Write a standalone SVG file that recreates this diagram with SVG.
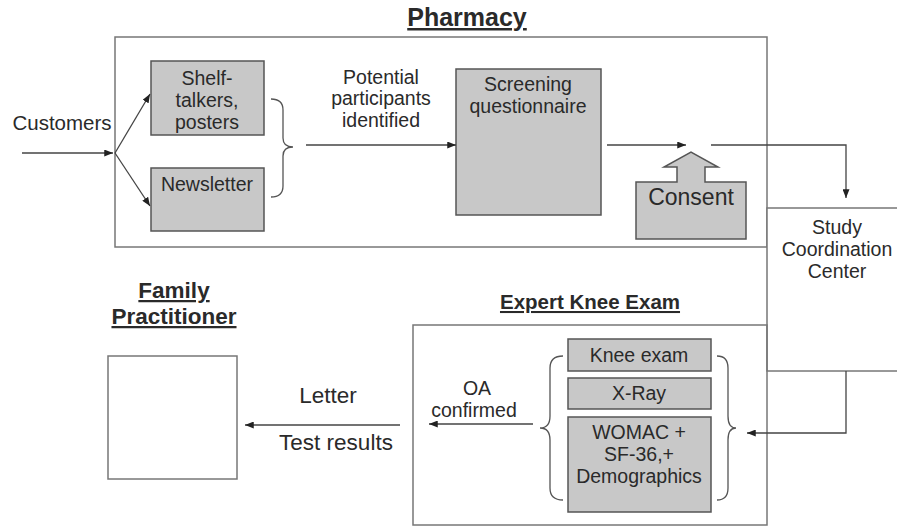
<svg xmlns="http://www.w3.org/2000/svg" width="897" height="527" viewBox="0 0 897 527">
<defs>
<marker id="ah" viewBox="0 0 10 8" refX="10" refY="4" markerWidth="9" markerHeight="7" markerUnits="userSpaceOnUse" orient="auto">
<path d="M0,0 L10,4 L0,8 Z" fill="#222"/>
</marker>
</defs>
<style>
text{font-family:"Liberation Sans",Arial,sans-serif;fill:#2a2a2a;text-anchor:middle}
.box{fill:#c8c8c8;stroke:#555;stroke-width:1.5}
.frame{fill:none;stroke:#777;stroke-width:1.5}
.wframe{fill:#fff;stroke:#777;stroke-width:1.5}
.ln{fill:none;stroke:#444;stroke-width:1.3}
.br{fill:none;stroke:#555;stroke-width:1.3}
.t{font-size:19.5px}
.title{font-weight:bold;text-decoration:underline}
</style>
<rect width="897" height="527" fill="#fff"/>

<g id="pharmacy">
<rect class="frame" x="115" y="37" width="652" height="210"/>
<text class="title" x="467" y="26" font-size="25">Pharmacy</text>
</g>

<g id="customers">
<text x="62" y="130" font-size="20.5">Customers</text>
</g>

<g id="shelf">
<rect class="box" x="151" y="61" width="113" height="74"/>
<text class="t" x="207" y="85">Shelf-</text>
<text class="t" x="207" y="107">talkers,</text>
<text class="t" x="207" y="129">posters</text>
</g>

<g id="newsletter">
<rect class="box" x="151" y="168" width="113" height="63"/>
<text class="t" x="207" y="191">Newsletter</text>
</g>

<g id="potential">
<text class="t" x="381" y="84">Potential</text>
<text class="t" x="381" y="105">participants</text>
<text class="t" x="381" y="127">identified</text>
</g>

<g id="screening">
<rect class="box" x="456" y="69" width="145" height="146"/>
<text class="t" x="528" y="91">Screening</text>
<text class="t" x="528" y="113">questionnaire</text>
</g>

<g id="consent">
<path class="box" d="M636,182 H677 V167 H664 L691,152 L718,167 H705 V182 H746 V239 H636 Z"/>
<text x="691" y="205" font-size="23">Consent</text>
</g>

<g id="study">
<rect class="wframe" x="767" y="208" width="140" height="163"/>
<text class="t" x="837" y="234">Study</text>
<text class="t" x="837" y="256">Coordination</text>
<text class="t" x="837" y="278">Center</text>
</g>

<g id="expert">
<rect class="frame" x="413" y="325" width="354" height="200"/>
<text class="title" x="590" y="309" font-size="20.5">Expert Knee Exam</text>
</g>

<g id="kneeexam">
<rect class="box" x="568" y="339" width="143" height="32"/>
<text class="t" x="639" y="362">Knee exam</text>
</g>

<g id="xray">
<rect class="box" x="568" y="378" width="143" height="31"/>
<text class="t" x="639" y="400">X-Ray</text>
</g>

<g id="womac">
<rect class="box" x="568" y="417" width="143" height="95"/>
<text class="t" x="639" y="439">WOMAC +</text>
<text class="t" x="639" y="461">SF-36,+</text>
<text class="t" x="639" y="483">Demographics</text>
</g>

<g id="family">
<text class="title" x="174" y="298" font-size="22.5">Family</text>
<text class="title" x="174" y="324" font-size="22.5">Practitioner</text>
<rect class="frame" x="108" y="356" width="129" height="123"/>
</g>

<g id="labels">
<text class="t" x="477" y="395">OA</text>
<text class="t" x="474" y="417">confirmed</text>
<text x="328" y="403" font-size="22.5">Letter</text>
<text x="336" y="450" font-size="22.5">Test results</text>
</g>

<g id="connectors">
<line class="ln" x1="22" y1="153" x2="113" y2="153" marker-end="url(#ah)"/>
<line class="ln" x1="115" y1="153" x2="150" y2="94" marker-end="url(#ah)"/>
<line class="ln" x1="115" y1="153" x2="150" y2="206" marker-end="url(#ah)"/>
<path class="br" d="M271,99 Q283,99 283,110 V138 Q283,147 293,147 Q283,147 283,156 V186 Q283,197 271,197"/>
<line class="ln" x1="306" y1="145" x2="456" y2="145" marker-end="url(#ah)"/>
<line class="ln" x1="607" y1="145" x2="686" y2="145" marker-end="url(#ah)"/>
<path class="ln" d="M711,145 H846 V198" marker-end="url(#ah)"/>
<path class="ln" d="M846,371 V433 H747" marker-end="url(#ah)"/>
<path class="br" d="M563,356 Q550,356 550,368 V416 Q550,428 540,428 Q550,428 550,440 V488 Q550,500 563,500"/>
<path class="br" d="M717,356 Q728,356 728,368 V416 Q728,428 736,428 Q728,428 728,440 V488 Q728,500 717,500"/>
<line class="ln" x1="533" y1="424" x2="429" y2="424" marker-end="url(#ah)"/>
<line class="ln" x1="400" y1="425" x2="245" y2="425" marker-end="url(#ah)"/>
</g>
</svg>
